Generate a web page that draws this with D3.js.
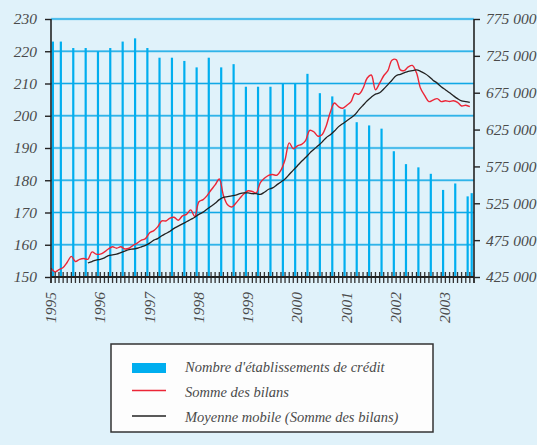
<!DOCTYPE html>
<html>
<head>
<meta charset="utf-8">
<script src="https://cdn.jsdelivr.net/npm/d3@7"></script>
<style>
  html, body { margin: 0; padding: 0; background: #e0f2fa; }
  svg { display: block; }
  text { font-family: "Liberation Serif", serif; font-style: italic; fill: #4a4a4a; }
</style>
</head>
<body>
<div id="chart"></div>
<script>
// number of credit institutions (left axis), read quarterly
const barMonths = ["1995-01","1995-03","1995-06","1995-09","1995-12","1996-03","1996-06","1996-09","1996-12",
  "1997-03","1997-06","1997-09","1997-12","1998-03","1998-06","1998-09","1998-12","1999-03","1999-06","1999-09",
  "1999-12","2000-03","2000-06","2000-09","2000-12","2001-03","2001-06","2001-09","2001-12","2002-03","2002-06",
  "2002-09","2002-12","2003-03","2003-06","2003-07"];
const barValues = [223,223,221,221,220,221,223,224,221,218,218,217,215,218,215,216,209,209,209,210,
  210,213,207,206,202,198,197,196,189,185,184,182,177,179,175,176];

// total balance sheet (right axis), monthly from Jan 1995, in thousands
const bilans = [437,432,435,438,445,453,446,449,450,449,
  459,456,456,459,463,466,464,466,463,464,
  468,471,475,477,485,488,493,501,501,505,
  506,502,508,510,516,507,527,530,535,543,
  550,558,536,523,520,525,532,538,542,541,
  539,553,559,563,564,563,570,584,607,599,
  603,605,610,624,622,616,618,630,649,661,
  656,654,658,663,674,673,681,695,699,679,
  688,698,705,719,720,706,705,710,712,702,
  681,671,663,665,667,663,664,663,664,662,
  657,658,656];
// moving average, monthly from Oct 1995, in thousands
const moyenne = [444,446,448,449,451,454,455,456,458,460,462,
  463,464,466,468,471,475,477,481,484,487,
  491,494,497,500,503,506,510,513,517,521,
  525,530,533,534,535,536,538,539,539,538,
  538,537,540,544,546,550,554,558,564,570,
  576,582,587,593,598,603,608,614,618,623,
  629,633,637,641,645,652,658,664,669,673,
  675,680,686,692,698,700,702,704,705,706,
  704,701,697,692,688,683,679,675,671,667,
  664,663,662];

const years = ["1995","1996","1997","1998","1999","2000","2001","2002","2003"];
const leftTicks = [150,160,170,180,190,200,210,220,230];
const rightTicks = [425000,475000,525000,575000,625000,675000,725000,775000];
const legendLabels = ["Nombre d'établissements de crédit", "Somme des bilans", "Moyenne mobile (Somme des bilans)"];

const W = 537, H = 445;
const m = {left: 51, right: 63, top: 19, bottom: 168};
const blue = "#00aeef", red = "#ec2637", black = "#222";

const svg = d3.select("#chart").append("svg").attr("width", W).attr("height", H);
svg.append("rect").attr("width", W).attr("height", H).attr("fill", "#e0f2fa");

const start = new Date(1995, 0, 1);
const x = d3.scaleTime()
  .domain([start, new Date(2003, 7, 1)])
  .range([m.left, W - m.right]);
const yL = d3.scaleLinear().domain([150, 230]).range([H - m.bottom + 0, m.top]);
// bottom at 277
yL.range([277, 19]);
const yR = d3.scaleLinear().domain([425000, 775000]).range([277, 19]);

const monthDate = i => d3.timeMonth.offset(start, i);
const parseMonth = s => { const p = s.split("-"); return new Date(+p[0], +p[1] - 1, 15); };

// gridlines
const grid = svg.append("g");
leftTicks.slice(1).forEach(t => {
  grid.append("line").attr("x1", x.range()[0]).attr("x2", x.range()[1])
    .attr("y1", yL(t)).attr("y2", yL(t))
    .attr("stroke", "#8fd5f2").attr("stroke-width", 2.6);
  grid.append("line").attr("x1", x.range()[0]).attr("x2", x.range()[1])
    .attr("y1", yL(t)).attr("y2", yL(t))
    .attr("stroke", "#10a8e6").attr("stroke-width", 1.2);
});

// bars
svg.append("g").selectAll("rect")
  .data(barValues)
  .join("rect")
  .attr("x", (d, i) => x(parseMonth(barMonths[i])) - 1.1)
  .attr("width", 2.2)
  .attr("y", d => yL(d))
  .attr("height", d => yL(150) - yL(d))
  .attr("fill", blue);

// lines
const lineBil = d3.line()
  .x((d, i) => x(monthDate(i)))
  .y(d => yR(d * 1000))
  .curve(d3.curveCatmullRom);
svg.append("path").datum(bilans).attr("d", lineBil)
  .attr("fill", "none").attr("stroke", red).attr("stroke-width", 1.4);

const lineMoy = d3.line()
  .x((d, i) => x(monthDate(i + 9)))
  .y(d => yR(d * 1000))
  .curve(d3.curveCatmullRom);
svg.append("path").datum(moyenne).attr("d", lineMoy)
  .attr("fill", "none").attr("stroke", black).attr("stroke-width", 1.3);

// left axis
const axL = svg.append("g").attr("transform", "translate(" + m.left + ",0)")
  .call(d3.axisLeft(yL).tickValues(leftTicks).tickSize(6).tickPadding(8).tickFormat(d3.format("d")));
axL.select(".domain").attr("d", "M0,19V283").attr("stroke", "#222").attr("stroke-width", 1.6);
axL.selectAll(".tick line").attr("stroke", "#222").attr("stroke-width", 1.4);
axL.selectAll("text").style("font-size", "15.5px").attr("fill", "#4a4a4a").attr("font-family", null);

// right axis
const axR = svg.append("g").attr("transform", "translate(" + (W - m.right) + ",0)")
  .call(d3.axisRight(yR).tickValues(rightTicks).tickSize(6).tickPadding(6)
    .tickFormat(d => (d / 1000) + " 000"));
axR.select(".domain").attr("d", "M0,19V283").attr("stroke", "#222").attr("stroke-width", 1.6);
axR.selectAll(".tick line").attr("stroke", "#222").attr("stroke-width", 1.4);
axR.selectAll("text").style("font-size", "15.5px").attr("fill", "#4a4a4a").attr("font-family", null);

// bottom axis with monthly ticks crossing the line
const axB = svg.append("g");
axB.selectAll("line.mt")
  .data(d3.timeMonth.range(start, new Date(2003, 7, 2)))
  .join("line")
  .attr("x1", d => x(d)).attr("x2", d => x(d))
  .attr("y1", 272).attr("y2", 283)
  .attr("stroke", "#333").attr("stroke-width", 1.3);
axB.append("line").attr("x1", m.left).attr("x2", W - m.right)
  .attr("y1", 277).attr("y2", 277).attr("stroke", "#222").attr("stroke-width", 2);

axB.selectAll("text.yr")
  .data(years)
  .join("text")
  .attr("transform", d => "translate(" + (x(new Date(+d, 0, 1)) + 5) + ",292) rotate(-90)")
  .attr("text-anchor", "end")
  .style("font-size", "15.5px")
  .text(d => d);

// legend
const lg = svg.append("g").attr("transform", "translate(111,344)");
lg.append("rect").attr("width", 322).attr("height", 88)
  .attr("fill", "#fdfdfd").attr("stroke", "#333").attr("stroke-width", 1.5);
lg.append("rect").attr("x", 21).attr("y", 19).attr("width", 34).attr("height", 10).attr("fill", blue);
lg.append("line").attr("x1", 21).attr("x2", 55).attr("y1", 46.5).attr("y2", 46.5)
  .attr("stroke", red).attr("stroke-width", 1.4);
lg.append("line").attr("x1", 21).attr("x2", 55).attr("y1", 72).attr("y2", 72)
  .attr("stroke", black).attr("stroke-width", 1.3);
lg.selectAll("text.lab")
  .data(legendLabels)
  .join("text")
  .attr("x", 74)
  .attr("y", (d, i) => 28 + i * 25)
  .style("font-size", "14.5px")
  .text(d => d);
</script>
</body>
</html>
